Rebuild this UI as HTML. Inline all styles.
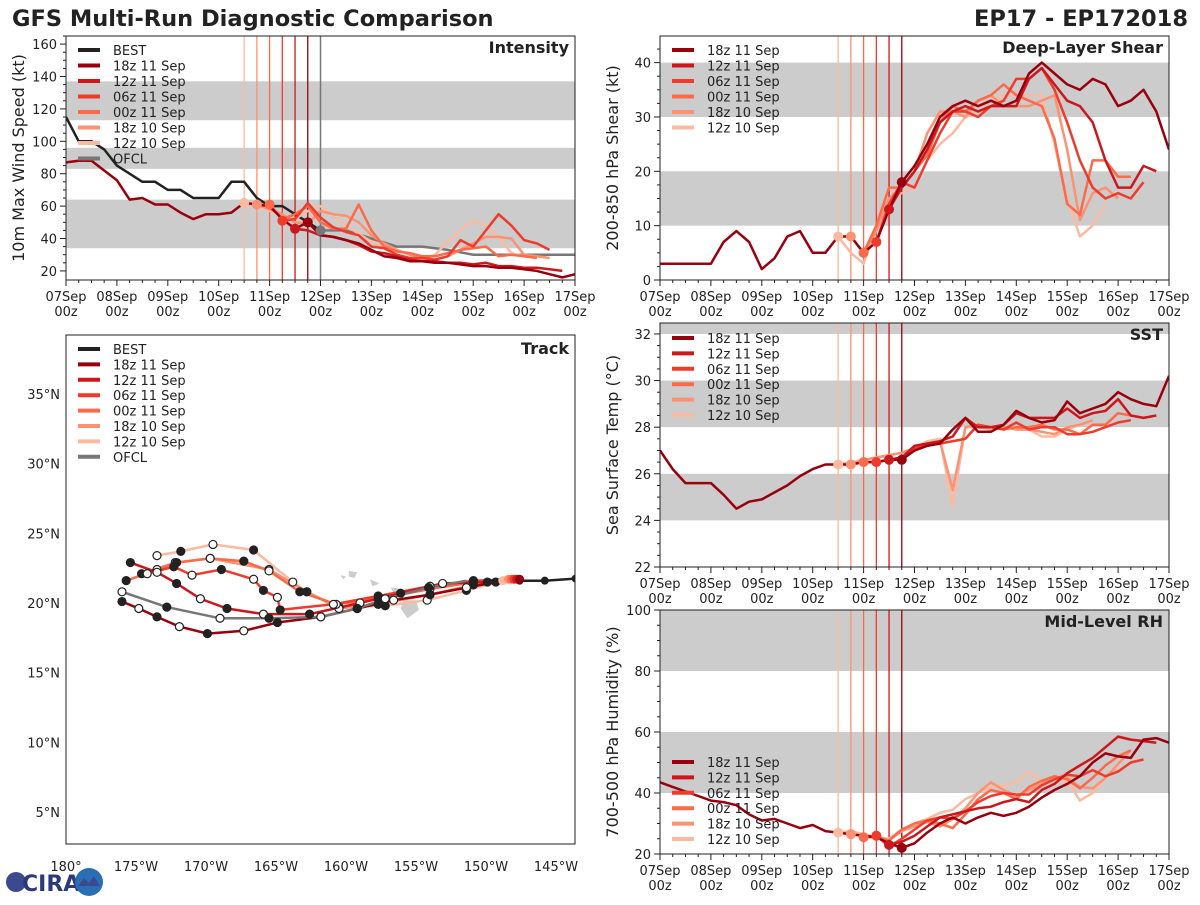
<!DOCTYPE html>
<html><head><meta charset="utf-8"><style>
html,body{margin:0;padding:0;background:#fff;}
svg text{font-family:"DejaVu Sans","Liberation Sans",sans-serif;fill:#222;}
</style></head><body>
<svg id="chart" width="1200" height="900" viewBox="0 0 1200 900" xmlns="http://www.w3.org/2000/svg">
<text x="12" y="26" font-size="22.5" font-weight="bold">GFS Multi-Run Diagnostic Comparison</text>
<text x="1188" y="26" font-size="22.5" font-weight="bold" text-anchor="end">EP17 - EP172018</text>
<g id="logo">
<circle cx="16" cy="882" r="10" fill="#3b4a8f"/>
<text x="22" y="891" font-size="22" font-weight="bold" style="fill:#2b3a7a">CIRA</text>
<circle cx="89" cy="882" r="14" fill="#2a6fb5"/>
<path d="M78 886 l6 -8 l5 5 l5 -7 l6 10 z" fill="#3b4a8f"/>
</g>
</svg>
<script>
// ---------------- data ----------------
const runLabels = ['18z 11 Sep','12z 11 Sep','06z 11 Sep','00z 11 Sep','18z 10 Sep','12z 10 Sep'];
const runColors = ['#99000d','#cb181d','#ef3b2c','#fb6a4a','#fc9272','#fcbba1'];
const runInitHours = [114,108,102,96,90,84];
const runStartHours = [0,108,102,96,90,84];
const dayLabels = ['07Sep','08Sep','09Sep','10Sep','11Sep','12Sep','13Sep','14Sep','15Sep','16Sep','17Sep'];

const bestIntensity = [115,100,100,95,85,80,75,75,70,70,65,65,65,75,75,65,60,60,55,50,45];
const ofclHours = [120,132,144,156,168,180,192,240];
const ofclIntensity = [45,45,40,35,35,33,30,30];
const intensityValues = [
 [87,88,88,82,76,64,65,61,61,56,52,55,55,56,62,61,60,52,46,50,42,41,39,37,33,29,28,26,26,25,25,24,23,23,22,22,21,20,18,16,18],
 [46,45,42,41,39,36,32,31,29,27,26,26,25,25,24,25,23,23,22,22,21,20],
 [51,52,62,53,47,44,42,35,34,30,28,28,27,29,39,35,45,55,48,39,37,33],
 [61,52,55,60,50,46,46,61,45,35,32,31,29,29,31,33,34,35,29,30,29,28],
 [61,58,55,50,49,57,55,54,50,42,37,33,30,28,27,29,33,37,41,41,40,30,29,28],
 [62,60,57,54,52,57,60,54,48,43,38,34,30,28,27,30,38,45,51,48,41,31,29]
];
const shearValues = [
 [3,3,3,3,3,7,9,7,2,4,8,9,5,5,8,8,5,7,13,18,21,25,30,32,33,32,33,32,33,38,40,38,36,35,37,36,32,33,35,31,24],
 [13,17,20,24,29,31,32,31,32,32,32,37,39,36,33,32,29,22,17,17,21,20],
 [7,14,18,17,22,27,31,31,30,32,33,37,37,39,35,29,22,17,15,16,15,18],
 [5,10,17,17,20,23,29,32,31,33,34,36,34,33,32,26,14,12,22,22,19,19],
 [8,5,9,15,17,20,27,31,31,30,33,34,32,32,32,33,34,24,11,16,17,15],
 [8,5,3,10,15,16,17,22,25,27,30,31,33,34,34,34,34,25,15,8,10,14]
];
const sstValues = [
 [27.0,26.2,25.6,25.6,25.6,25.1,24.5,24.8,24.9,25.2,25.5,25.9,26.2,26.4,26.4,26.4,26.5,26.5,26.6,26.6,27.0,27.2,27.3,27.9,28.4,27.8,27.8,28.1,28.7,28.4,28.2,28.3,29.1,28.6,28.8,29.0,29.5,29.2,29.0,28.9,30.2],
 [26.6,26.7,27.2,27.3,27.4,27.6,28.4,28.0,28.0,28.1,28.6,28.4,28.4,28.4,28.8,28.4,28.6,28.7,29.2,28.5,28.4,28.5],
 [26.5,26.6,26.7,27.1,27.2,27.3,27.4,27.5,28.1,28.0,27.9,28.2,27.9,28.0,28.0,27.7,27.7,27.8,28.0,28.2,28.3],
 [26.5,26.5,26.6,26.7,27.0,27.2,27.3,27.4,27.5,28.1,28.0,27.9,28.0,28.0,28.1,27.9,27.9,27.7,28.1,28.1,28.6,28.5],
 [26.4,26.6,26.7,26.8,26.9,27.1,27.3,27.4,25.3,28.0,28.1,28.0,28.0,27.9,27.9,27.8,27.7,28.0,28.1,28.3],
 [26.4,26.5,26.6,26.7,26.8,26.9,27.1,27.4,27.5,24.6,28.0,28.0,27.9,28.0,27.9,27.9,27.6,27.6,27.9,28.1,28.3]
];
const rhValues = [
 [43.5,42,40.5,39,37.5,37,36,33,31,31.5,30,28.5,29.5,27.5,27,26.5,26,25.5,23.5,22,23.5,27,30,32,30,32,33.5,32.5,33.5,35.5,38.5,41,43,45.5,50,53,52,51.5,57.5,58,56.5],
 [23,24,26,29,32,33,34,35,35.5,37,38,37,41,43,46.5,49,51.5,55,58.5,57.5,57,56.5],
 [26,22.5,25,28,31,32,31.5,34,37,39,40,39.5,39.5,42.5,44.5,46,45.5,47.5,45.5,47,50,51],
 [25.5,25.5,24.5,28,30,31,30,28.5,33,38,41,40,38,42,44,45.5,44.5,41.5,45,49,52,54],
 [26.5,26,25.5,24.5,27.5,29,30.5,29,31.5,35,40,43.5,41,39,41,43,45,45,42,41.5,45,49.5,54],
 [27,27.5,26.5,25.5,25,28,30,31.5,33.5,34.5,38,40,42,42.5,43.5,47,44,44.5,44,37.5,40,45,48]
];
// tracks
const bestTrackLon = [-143.6,-145.8,-147.6];
const bestTrackLat = [21.75,21.6,21.6];
const ofclTrackLon = [-151.4,-154.1,-157.2,-159.2,-161.8,-165.5,-169.0,-172.8,-176.0];
const ofclTrackLat = [21.6,21.1,20.3,19.6,19.0,18.9,18.9,19.7,20.8];
const trackLons = [
 [-147.6,-149.3,-151.4,-154.0,-156.6,-159.2,-161.8,-164.9,-167.3,-169.9,-171.9,-173.5,-174.8,-176.0],
 [-147.8,-149.9,-153.1,-156.1,-159.0,-162.6,-165.9,-168.5,-170.4,-172.1,-173.5,-175.4],
 [-148.0,-150.9,-154.0,-157.7,-160.9,-164.7,-164.9,-165.9,-166.6,-168.9,-171.0,-172.3,-174.2],
 [-148.2,-150.9,-154.0,-157.7,-160.7,-163.3,-165.5,-167.3,-169.7,-172.1,-173.5,-175.7],
 [-148.4,-150.9,-154.0,-157.7,-160.5,-162.8,-165.5,-169.7,-172.2,-174.6],
 [-148.8,-151.4,-154.2,-157.2,-160.5,-162.8,-163.8,-166.6,-169.5,-171.8,-173.5]
];
const trackLats = [
 [21.7,21.5,21.1,20.6,20.2,19.6,19.0,18.6,18.0,17.8,18.3,19.0,19.6,20.1],
 [21.7,21.5,21.4,20.7,20.0,19.2,19.2,19.6,20.3,21.4,22.2,22.9],
 [21.7,21.6,21.2,20.5,19.9,19.5,20.4,20.9,21.7,22.4,22.0,22.6,22.1],
 [21.7,21.5,21.0,20.3,19.9,20.8,22.3,23.0,23.2,22.9,22.4,21.6],
 [21.7,21.3,20.6,19.9,19.6,20.8,22.4,23.2,22.9,22.1],
 [21.6,20.9,20.2,19.8,19.7,20.8,21.5,23.8,24.2,23.7,23.4]
];
const latTicks = [5,10,15,20,25,30,35];
const lonTicks = [-180,-175,-170,-165,-160,-155,-150,-145];

// ---------------- drawing ----------------
const NS='http://www.w3.org/2000/svg';
const svg=document.getElementById('chart');
function mk(tag,attrs,parent){const e=document.createElementNS(NS,tag);for(const k in attrs)e.setAttribute(k,attrs[k]);(parent||svg).appendChild(e);return e;}
function pts(a){return a.map(p=>p[0].toFixed(1)+','+p[1].toFixed(1)).join(' ');}

function timePanel(cfg){
  const g=mk('g',{});
  
  
  const X=h=>cfg.x0+(h/240)*(cfg.x1-cfg.x0);
  const Y=v=>cfg.y1-(v-cfg.ymin)/(cfg.ymax-cfg.ymin)*(cfg.y1-cfg.y0);
  const clip='clip-'+cfg.name;
  const cp=mk('clipPath',{id:clip},g); mk('rect',{x:cfg.x0,y:cfg.y0,width:cfg.x1-cfg.x0,height:cfg.y1-cfg.y0},cp);
  cfg.bands.forEach(b=>{const r=mk('rect',{x:cfg.x0,y:Y(Math.min(b[1],cfg.ymax)),width:cfg.x1-cfg.x0,height:Y(b[0])-Y(Math.min(b[1],cfg.ymax)),fill:'#cccccc'},g);
    
    });
  for(let i=5;i>=0;i--){const l=mk('line',{x1:X(runInitHours[i]),x2:X(runInitHours[i]),y1:cfg.y0,y2:cfg.y1,stroke:runColors[i],'stroke-width':1.3},g);
    
    }
  if(cfg.ofcl){const l=mk('line',{x1:X(120),x2:X(120),y1:cfg.y0,y2:cfg.y1,stroke:'#777','stroke-width':1.5},g);
    
    }
  const lg=mk('g',{'clip-path':'url(#'+clip+')'},g);
  if(cfg.best){const p=mk('polyline',{points:pts(cfg.best.map((v,i)=>[X(i*6),Y(v)])),fill:'none',stroke:'#222','stroke-width':2.5},lg);
    
    }
  if(cfg.ofcl){const p=mk('polyline',{points:pts(ofclHours.map((h,i)=>[X(h),Y(cfg.ofcl[i])])),fill:'none',stroke:'#777','stroke-width':2.5},lg);
    
    }
  for(let i=5;i>=0;i--){
    const vals=cfg.runs[i];
    const p=mk('polyline',{points:pts(vals.map((v,k)=>[X(runStartHours[i]+k*6),Y(v)])),fill:'none',stroke:runColors[i],'stroke-width':2.5,'stroke-linejoin':'round'},lg);
    
    
  }
  for(let i=5;i>=0;i--){
    const k=(runInitHours[i]-runStartHours[i])/6;
    const c=mk('circle',{cx:X(runInitHours[i]),cy:Y(cfg.runs[i][k]),r:5,fill:runColors[i]},lg);
    
    
  }
  if(cfg.ofcl){const c=mk('circle',{cx:X(120),cy:Y(cfg.ofcl[0]),r:5,fill:'#777'},lg);
    
    }
  const fr=mk('rect',{x:cfg.x0,y:cfg.y0,width:cfg.x1-cfg.x0,height:cfg.y1-cfg.y0,fill:'none',stroke:'#222','stroke-width':1},g);
  
  
  for(let h=0;h<=240;h+=6){const major=h%24===0;
    mk('line',{x1:X(h),x2:X(h),y1:cfg.y1,y2:cfg.y1+(major?6:3),stroke:'#222'},g);}
  dayLabels.forEach((d,i)=>{
    const t=mk('text',{x:X(i*24),y:cfg.y1+21,'font-size':13,'text-anchor':'middle'},g);t.textContent=d;
    
    
    const t2=mk('text',{x:X(i*24),y:cfg.y1+36,'font-size':13,'text-anchor':'middle'},g);t2.textContent='00z';
    
    
  });
  for(let v=cfg.tickStart;v<=cfg.ymax+1e-6;v+=cfg.tickStep/cfg.minorDiv){
    if(v<cfg.ymin-1e-6)continue;
    const major=Math.abs(((v-cfg.tickStart)/cfg.tickStep)-Math.round((v-cfg.tickStart)/cfg.tickStep))<1e-6;
    mk('line',{x1:cfg.x0-(major?6:3),x2:cfg.x0,y1:Y(v),y2:Y(v),stroke:'#222'},g);
    if(major){const t=mk('text',{x:cfg.x0-9,y:Y(v)+5,'font-size':13,'text-anchor':'end'},g);t.textContent=Math.round(v);
      
      }
  }
  const yl=mk('text',{x:0,y:0,'font-size':16,'text-anchor':'middle',transform:`translate(${cfg.x0-42},${(cfg.y0+cfg.y1)/2}) rotate(-90)`},g);
  yl.textContent=cfg.ylabel;
  
  
  const tt=mk('text',{x:cfg.x1-6,y:cfg.y0+17,'font-size':16,'font-weight':'bold','text-anchor':'end'},g);
  tt.textContent=cfg.title;
  
  
  const entries=[];
  if(cfg.best)entries.push(['BEST','#222']);
  runLabels.forEach((l,i)=>entries.push([l,runColors[i]]));
  if(cfg.ofcl)entries.push(['OFCL','#777']);
  entries.forEach((e,i)=>{
    const y=cfg.legY+i*cfg.legStep;
    const lg2=mk('g',{},g);
    
    
    mk('line',{x1:cfg.x0+12,x2:cfg.x0+34,y1:y,y2:y,stroke:e[1],'stroke-width':4},lg2);
    const t=mk('text',{x:cfg.x0+47,y:y+5,'font-size':13},lg2);t.textContent=e[0];
  });
}

timePanel({name:'intensity-panel',x0:66,x1:575,y0:36,y1:280,ymin:14.4,ymax:165,tickStart:20,tickStep:20,minorDiv:4,
  bands:[[34,64],[83,96],[113,137]],runs:intensityValues,best:bestIntensity,ofcl:ofclIntensity,
  ylabel:'10m Max Wind Speed (kt)',title:'Intensity',legY:50,legStep:15.5});
timePanel({name:'shear-panel',x0:660,x1:1169,y0:36,y1:280,ymin:0,ymax:44.9,tickStart:0,tickStep:10,minorDiv:4,
  bands:[[10,20],[30,40]],runs:shearValues,
  ylabel:'200-850 hPa Shear (kt)',title:'Deep-Layer Shear',legY:50,legStep:15.5});
timePanel({name:'sst-panel',x0:660,x1:1169,y0:323,y1:567,ymin:22,ymax:32.47,tickStart:22,tickStep:2,minorDiv:4,
  bands:[[24,26],[28,30],[32,34]],runs:sstValues,
  ylabel:'Sea Surface Temp (°C)',title:'SST',legY:338,legStep:15.4});
timePanel({name:'rh-panel',x0:660,x1:1169,y0:610,y1:854,ymin:20,ymax:100,tickStart:20,tickStep:20,minorDiv:4,
  bands:[[40,60],[80,100]],runs:rhValues,
  ylabel:'700-500 hPa Humidity (%)',title:'Mid-Level RH',legY:762,legStep:15.4});

// ---------------- track panel ----------------
(function(){
  const x0=66,x1=575,y0=335,y1=844;
  const g=mk('g',{});
  
  
  const LX=lon=>x0+(lon+180)*14;
  const LY=lat=>394+(35-lat)*13.93;
  const cp=mk('clipPath',{id:'clip-track'},g); mk('rect',{x:x0,y:y0,width:x1-x0,height:y1-y0},cp);
  const cg=mk('g',{'clip-path':'url(#clip-track)'},g);
  [[[-155.9,20.2],[-155.0,20.2],[-154.8,19.5],[-155.6,18.9],[-156.1,19.6]],
   [[-156.8,21.1],[-156.0,21.0],[-155.9,20.6],[-156.6,20.7]],
   [[-158.3,21.7],[-157.6,21.4],[-158.1,21.2]],
   [[-159.8,22.3],[-159.2,22.2],[-159.4,21.8],[-159.8,21.9]],
   [[-160.4,22.0],[-160.0,21.9],[-160.2,21.7]]].forEach(poly=>{
    const p=mk('polygon',{points:pts(poly.map(q=>[LX(q[0]),LY(q[1])])),fill:'#cccccc'},cg);
    
    
  });
  function track(lons,lats,color,name){
    const p=mk('polyline',{points:pts(lons.map((l,i)=>[LX(l),LY(lats[i])])),fill:'none',stroke:color,'stroke-width':2.5},cg);
    
    
  }
  function markers(lons,lats){
    lons.forEach((l,i)=>{ if(i===0)return;
      const c=mk('circle',{cx:LX(l),cy:LY(lats[i]),r:4,fill:(i%2?'#222':'#fff'),stroke:'#222','stroke-width':1.2},cg);
      
      
    });
  }
  track(bestTrackLon,bestTrackLat,'#222','best-track');
  for(let i=5;i>=0;i--)track(trackLons[i],trackLats[i],runColors[i],'track-'+runLabels[i].replace(/ /g,'-').toLowerCase());
  track(ofclTrackLon,ofclTrackLat,'#777','ofcl-track');
  for(let i=5;i>=0;i--)markers(trackLons[i],trackLats[i]);
  markers(ofclTrackLon,ofclTrackLat);
  bestTrackLon.forEach((l,i)=>{const c=mk('circle',{cx:LX(l),cy:LY(bestTrackLat[i]),r:4,fill:'#222'},cg);
    
    });
  for(let i=5;i>=0;i--){const c=mk('circle',{cx:LX(trackLons[i][0]),cy:LY(trackLats[i][0]),r:4.5,fill:runColors[i]},cg);
    
    }
  const fr=mk('rect',{x:x0,y:y0,width:x1-x0,height:y1-y0,fill:'none',stroke:'#222','stroke-width':1},g);
  
  
  latTicks.forEach(v=>{const t=mk('text',{x:x0-6,y:LY(v)+5,'font-size':13,'text-anchor':'end'},g);t.textContent=v+'°N';
    
    });
  lonTicks.forEach(v=>{const t=mk('text',{x:LX(v),y:871,'font-size':13,'text-anchor':'middle'},g);t.textContent=(v===-180?'180°':(-v)+'°W');
    
    });
  const tt=mk('text',{x:x1-6,y:y0+19,'font-size':16,'font-weight':'bold','text-anchor':'end'},g);tt.textContent='Track';
  
  
  const entries=[['BEST','#222']].concat(runLabels.map((l,i)=>[l,runColors[i]])).concat([['OFCL','#777']]);
  entries.forEach((e,i)=>{const y=349+i*15.4;
    const lg=mk('g',{},g);
    
    
    mk('line',{x1:78,x2:100,y1:y,y2:y,stroke:e[1],'stroke-width':4},lg);
    const t=mk('text',{x:113,y:y+5,'font-size':13},lg);t.textContent=e[0];});
})();
</script>
</body></html>
